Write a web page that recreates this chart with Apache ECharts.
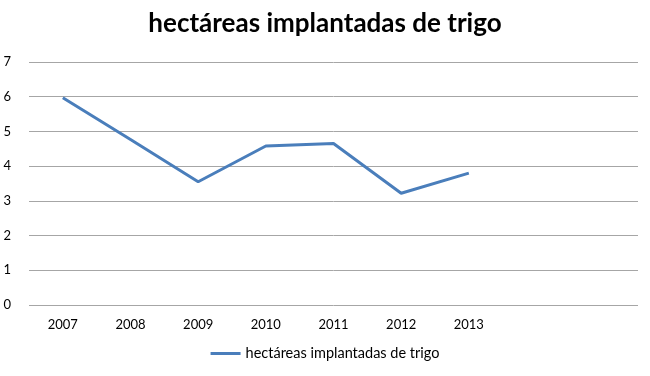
<!DOCTYPE html>
<html>
<head>
<meta charset="utf-8">
<script src="https://cdn.jsdelivr.net/npm/echarts@6/dist/echarts.min.js"></script>
<style>
  html, body { margin: 0; padding: 0; background: #fff; }
  #chart { width: 650px; height: 376px; }
</style>
</head>
<body>
<div id="chart"></div>
<script>
// categories (two trailing empty slots, as in the original sheet)
const years = ['2007', '2008', '2009', '2010', '2011', '2012', '2013', '', ''];
const hectares = [5.97, 4.77, 3.55, 4.58, 4.65, 3.22, 3.8, null, null];
const seriesName = 'hectáreas implantadas de trigo';

const chart = echarts.init(document.getElementById('chart'));

const option = {
  backgroundColor: '#fff',
  title: {
    text: 'hectáreas implantadas de trigo',
    left: 'center',
    top: 6,
    textStyle: {
      fontFamily: 'Lato',
      fontWeight: 'bold',
      fontSize: 26,
      color: '#000'
    }
  },
  legend: {
    data: [seriesName],
    bottom: 10,
    left: 'center',
    itemWidth: 30,
    itemHeight: 3,
    icon: 'rect',
    itemGap: 4,
    textStyle: { fontFamily: 'Lato', fontSize: 14.5, color: '#000' }
  },
  grid: {
    left: 29,
    right: 12,
    top: 62,
    bottom: 71
  },
  xAxis: {
    type: 'category',
    data: years,
    boundaryGap: true,
    axisLine: { show: false },
    axisTick: { show: false },
    axisLabel: {
      fontFamily: 'Lato',
      fontSize: 13,
      color: '#000',
      margin: 13
    }
  },
  yAxis: {
    type: 'value',
    min: 0,
    max: 7,
    interval: 1,
    axisLine: { show: false },
    axisTick: { show: false },
    axisLabel: {
      fontFamily: 'Lato',
      fontSize: 13,
      color: '#000',
      margin: 18
    },
    splitLine: { lineStyle: { color: '#a6a6a6', width: 1 } }
  },
  series: [
    {
      name: seriesName,
      type: 'line',
      data: hectares,
      symbol: 'none',
      color: '#4a7ebb',
      lineStyle: { width: 3, color: '#4a7ebb' }
    }
  ]
};

chart.setOption(option);
</script>
</body>
</html>
